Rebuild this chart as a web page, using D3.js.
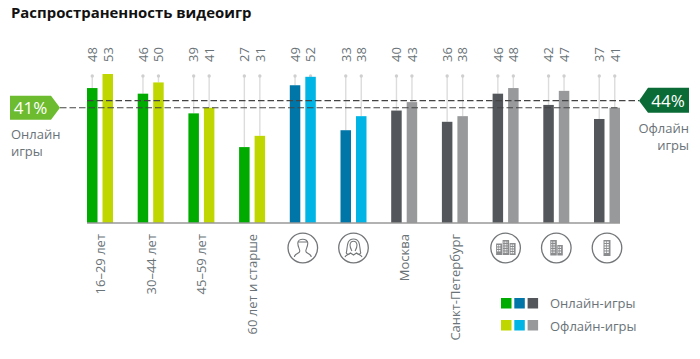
<!DOCTYPE html>
<html><head><meta charset="utf-8">
<script src="https://cdn.jsdelivr.net/npm/d3@7"></script>
<style>
html,body{margin:0;padding:0;background:#fff}
svg{display:block}
text{font-family:"Open Sans",sans-serif}
</style></head><body>
<svg id="c" width="700" height="359"></svg>
<script>
const title = "Распространенность видеоигр";
const groups = ["16–29 лет","30–44 лет","45–59 лет","60 лет и старше","male","female","Москва","Санкт-Петербург","cityLarge","cityMedium","citySmall"];
const onlineValues  = [48,46,39,27,49,33,40,36,46,42,37];
const offlineValues = [53,50,41,31,52,38,43,38,48,47,41];
const groupFamily   = [0,0,0,0,1,1,2,2,2,2,2];
const onlineColors  = ["#00ab00","#0076a8","#53565a"];
const offlineColors = ["#bfd600","#00b5e6","#97999b"];
const seriesKeys = ["online","offline"];
const refOnline = 41, refOnlineLabel = "41%", onlineCaption = ["Онлайн","игры"];
const refOffline = 43.5, refOfflineLabel = "44%", offlineCaption = ["Офлайн","игры"];
const legendLabels = ["Онлайн-игры","Офлайн-игры"];

const textGrey = "#6a7378";
const svg = d3.select("#c");
const step = 50.7;
const x0 = d3.scaleBand().domain(groups).range([87, 87 + step * groups.length]);
const x1 = d3.scaleBand().domain(seriesKeys).range([0, 26]).paddingInner(5 / 15.5);
const y = d3.scaleLinear().domain([0, 53]).range([223, 74]);
const pinTop = 76;

svg.append("text").attr("x", 11).attr("y", 18).attr("font-size", 14.9).attr("font-weight", 700)
  .attr("fill", "#111").text(title);

const g = svg.selectAll("g.grp").data(groups.map((name, i) => ({name, i})))
  .join("g").attr("class", "grp").attr("transform", d => `translate(${x0(d.name)},0)`);

const rows = d => seriesKeys.map(k => ({
  k, v: k === "online" ? onlineValues[d.i] : offlineValues[d.i],
  c: (k === "online" ? onlineColors : offlineColors)[groupFamily[d.i]]
}));

// pins
g.selectAll("line.pin").data(rows).join("line").attr("class", "pin")
  .attr("x1", d => x1(d.k) + x1.bandwidth() / 2).attr("x2", d => x1(d.k) + x1.bandwidth() / 2)
  .attr("y1", pinTop).attr("y2", d => y(d.v)).attr("stroke", "#dcdcdc").attr("stroke-width", 1.4);
g.selectAll("circle.pin").data(rows).join("circle").attr("class", "pin")
  .attr("cx", d => x1(d.k) + x1.bandwidth() / 2).attr("cy", pinTop).attr("r", 1.7).attr("fill", "#cfcfcf");

// bars
g.selectAll("rect.bar").data(rows).join("rect").attr("class", "bar")
  .attr("x", d => x1(d.k)).attr("width", x1.bandwidth())
  .attr("y", d => y(d.v)).attr("height", d => y(0) - y(d.v)).attr("fill", d => d.c);

// value labels
g.selectAll("text.val").data(rows).join("text").attr("class", "val")
  .attr("transform", d => `translate(${x1(d.k) + x1.bandwidth() / 2 + 4.8},62) rotate(-90)`)
  .attr("font-size", 13).attr("fill", textGrey).text(d => d.v);

// baseline
svg.append("line").attr("x1", 87).attr("x2", 620).attr("y1", y(0)).attr("y2", y(0))
  .attr("stroke", "#999").attr("stroke-width", 1.4);

// category labels and icons
const iconColor = "#737678";
g.each(function(d) {
  const s = d3.select(this), cx = 13;
  if (d.i < 4 || d.i === 6 || d.i === 7) {
    s.append("text").attr("transform", `translate(${cx + 5},234) rotate(-90)`)
      .attr("text-anchor", "end").attr("font-size", 13).attr("fill", textGrey).text(d.name);
    return;
  }
  const ic = s.append("g").attr("transform", `translate(${cx},248)`);
  ic.append("circle").attr("r", 14.8).attr("fill", "none").attr("stroke", iconColor).attr("stroke-width", 1.3);
  const line = p => ic.append("path").attr("d", p).attr("fill", "none").attr("stroke", iconColor).attr("stroke-width", 1.1);
  const building = (bx, by, bw, bh, cols) => {
    ic.append("rect").attr("x", bx).attr("y", by).attr("width", bw).attr("height", bh).attr("fill", "#8a8c8e");
    for (let r = 0; r < Math.floor((bh - 2) / 2.5); r++)
      for (let c = 0; c < cols; c++)
        ic.append("rect").attr("x", bx + 1 + c * (bw - 2) / cols).attr("y", by + 1.5 + r * 2.5)
          .attr("width", (bw - 2) / cols - .7).attr("height", 1.4).attr("fill", "#fff");
  };
  if (d.name === "male") {
    line("M-5,-5 C-5,-10 5,-10 5,-5 C5,-1 3,1 3,3 C3,6 8,5 8.5,9 M-5,-5 C-5,-1 -3,1 -3,3 C-3,6 -8,5 -8.5,9 M-5,-6 L5,-6");
  } else if (d.name === "female") {
    line("M-3.5,-3 C-3,-8 3,-8 3.5,-3 C3.5,0 2,2 1.5,3 M-3.5,-3 C-3.5,0 -2,2 -1.5,3");
    line("M0,-9 C-7,-9 -6,-1 -7,4 C-8,6 -5,7 -3,5 M0,-9 C7,-9 6,-1 7,4 C8,6 5,7 3,5 M-8.5,9 C-8,7 -5,7 -3,5 L0,7 L3,5 C5,7 8,7 8.5,9");
  } else if (d.name === "cityLarge") {
    building(-9.5, -4.5, 6, 11.5, 2);
    building(-3, -8, 6.5, 15, 3);
    building(4, -5, 6, 12, 2);
  } else if (d.name === "cityMedium") {
    building(-6, -8, 6.5, 15.5, 3);
    building(1, -3, 5.5, 10.5, 2);
  } else {
    building(-3.5, -8, 7, 16, 2);
  }
});

// reference lines
const dash = sel => sel.attr("stroke", "#444").attr("stroke-width", 1.2).attr("stroke-dasharray", "6.5 3");
svg.append("line").attr("x1", 60).attr("x2", 620).attr("y1", y(refOnline)).attr("y2", y(refOnline)).call(dash);
svg.append("line").attr("x1", 87).attr("x2", 639).attr("y1", y(refOffline)).attr("y2", y(refOffline)).call(dash);

// badges
const ly = y(refOnline), ry = y(refOffline);
svg.append("path").attr("d", d3.line()([[10,ly-12],[51,ly-12],[60,ly],[51,ly+12],[10,ly+12]])+"Z").attr("fill", "#6dbb2e");
svg.append("text").attr("x", 30.5).attr("y", ly + 6.5).attr("text-anchor", "middle").attr("font-size", 17).attr("fill", "#fff").text(refOnlineLabel);
svg.append("path").attr("d", d3.line()([[689,ry-13],[648,ry-13],[639,ry],[648,ry+12],[689,ry+12]])+"Z").attr("fill", "#0b6b36");
svg.append("text").attr("x", 668).attr("y", ry + 6.5).attr("text-anchor", "middle").attr("font-size", 17).attr("fill", "#fff").text(refOfflineLabel);

onlineCaption.forEach((t, i) => svg.append("text").attr("x", 11).attr("y", 139 + i * 17)
  .attr("font-size", 13).attr("fill", textGrey).text(t));
offlineCaption.forEach((t, i) => svg.append("text").attr("x", 689).attr("y", 133 + i * 17)
  .attr("text-anchor", "end").attr("font-size", 13).attr("fill", textGrey).text(t));

// legend
[onlineColors, offlineColors].forEach((cols, r) => {
  cols.forEach((c, i) => svg.append("rect").attr("x", 501 + i * 13.3).attr("y", 298 + r * 22)
    .attr("width", 10.5).attr("height", 10.5).attr("fill", c));
  svg.append("text").attr("x", 550).attr("y", 308 + r * 22.5).attr("font-size", 13).attr("fill", textGrey).text(legendLabels[r]);
});
</script>
</body></html>
